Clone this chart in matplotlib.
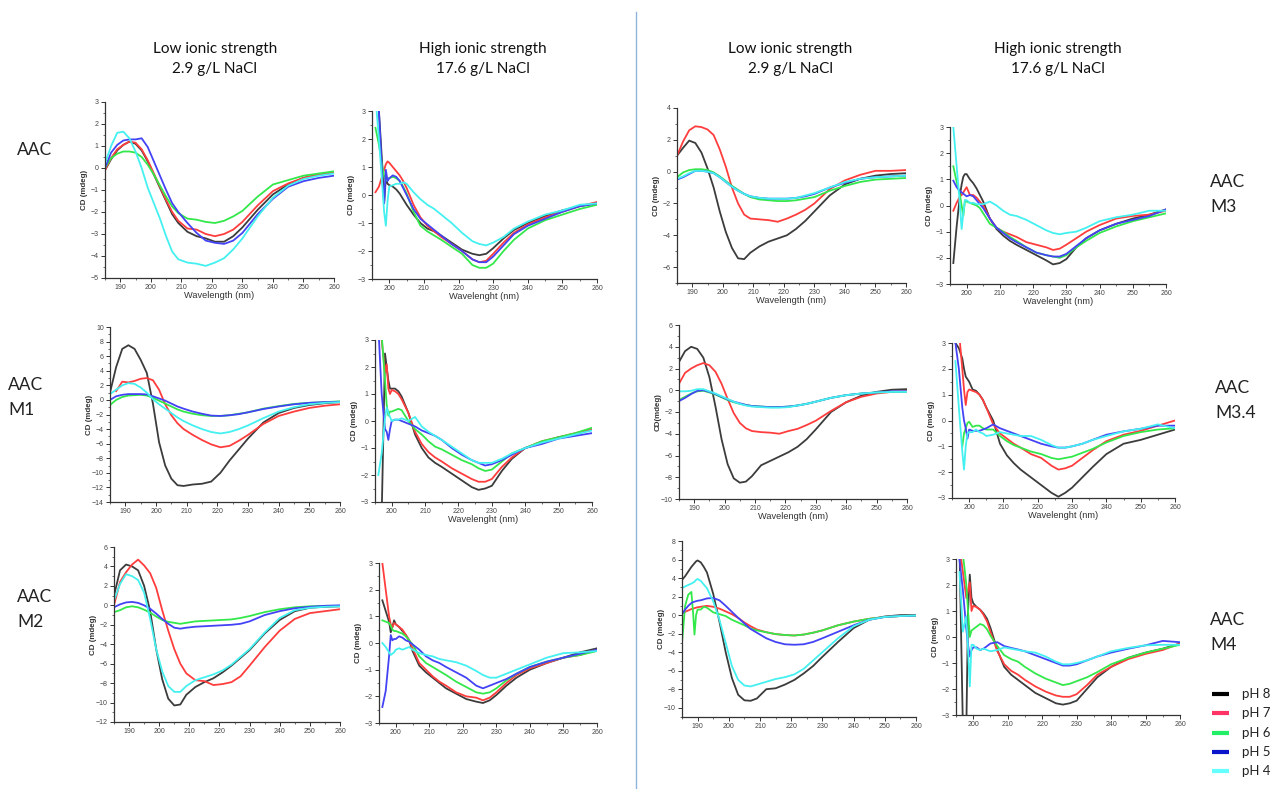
import matplotlib
matplotlib.use('Agg')
import matplotlib.pyplot as plt
from matplotlib.lines import Line2D
from matplotlib.ticker import MultipleLocator
import numpy as np

nan = np.nan

# ---------------- data ----------------
PH_LABELS = ["pH 8", "pH 7", "pH 6", "pH 5", "pH 4"]

X_LOW = [185, 187, 189, 191, 193, 195, 197, 199, 201, 203, 205, 207, 209, 212, 215,
         218, 221, 224, 227, 230, 235, 240, 245, 250, 255, 260]
X_HIGH = [196, 197, 198, 198.5, 199, 199.5, 200, 201, 202, 203, 204, 205, 207, 209, 211,
          213, 215, 218, 221, 224, 226, 228, 230, 233, 236, 240, 245, 250, 255, 260]
X_M4_LOW = [185, 186, 187, 188, 188.5, 189, 189.5, 190, 191, 192, 193, 195, 197, 199, 201,
            203, 205, 207, 209, 212, 215, 218, 221, 224, 227, 230, 235, 240, 245, 250, 255, 260]

# series order: pH 8, pH 7, pH 6, pH 5, pH 4
AAC_LOW = [
    [-0.1, 0.4, 0.8, 1.05, 1.2, 1.1, 0.8, 0.3, -0.3, -0.9, -1.5, -2.1, -2.5, -2.9, -3.1, -3.2, -3.35, -3.35, -3.1, -2.7, -1.9, -1.2, -0.75, -0.45, -0.3, -0.2],
    [-0.1, 0.45, 0.85, 1.05, 1.2, 1.15, 0.85, 0.35, -0.25, -0.85, -1.45, -2.0, -2.4, -2.75, -2.8, -3.0, -3.1, -3.0, -2.8, -2.45, -1.7, -1.05, -0.7, -0.45, -0.3, -0.2],
    [0.0, 0.45, 0.65, 0.75, 0.75, 0.7, 0.5, 0.15, -0.3, -0.8, -1.3, -1.75, -2.05, -2.3, -2.35, -2.45, -2.5, -2.4, -2.2, -1.95, -1.3, -0.75, -0.55, -0.35, -0.25, -0.15],
    [0.0, 0.7, 1.05, 1.25, 1.3, 1.3, 1.35, 0.95, 0.3, -0.35, -1.0, -1.6, -2.0, -2.5, -2.95, -3.3, -3.4, -3.45, -3.3, -2.95, -2.1, -1.4, -0.85, -0.6, -0.45, -0.35],
    [0.2, 1.0, 1.6, 1.65, 1.35, 0.75, 0.0, -0.9, -1.6, -2.3, -3.1, -3.8, -4.15, -4.3, -4.35, -4.45, -4.3, -4.1, -3.7, -3.2, -2.2, -1.35, -0.8, -0.5, -0.35, -0.25],
]
AAC_HIGH = [
    [3.5, 3.0, 1.0, -0.3, 0.6, 0.4, 0.35, 0.3, 0.2, 0.05, -0.15, -0.35, -0.7, -1.0, -1.2, -1.3, -1.45, -1.7, -1.95, -2.1, -2.15, -2.1, -1.9, -1.55, -1.25, -1.0, -0.75, -0.55, -0.4, -0.3],
    [0.1, 0.3, 0.7, 0.9, 1.1, 1.2, 1.15, 1.0, 0.85, 0.7, 0.5, 0.25, -0.35, -0.8, -1.1, -1.3, -1.5, -1.75, -2.0, -2.3, -2.4, -2.35, -2.1, -1.7, -1.35, -1.05, -0.8, -0.6, -0.4, -0.25],
    [2.4, 1.8, 1.0, 0.7, 0.5, 0.6, 0.6, 0.65, 0.6, 0.5, 0.3, 0.05, -0.6, -1.1, -1.3, -1.45, -1.6, -1.85, -2.1, -2.5, -2.6, -2.6, -2.45, -2.0, -1.6, -1.2, -0.9, -0.7, -0.5, -0.35],
    [3.5, 3.0, 0.5, -0.3, 0.9, 0.5, 0.6, 0.7, 0.65, 0.5, 0.25, 0.0, -0.5, -0.85, -1.05, -1.25, -1.45, -1.75, -2.0, -2.3, -2.4, -2.4, -2.2, -1.8, -1.4, -1.1, -0.85, -0.6, -0.4, -0.3],
    [3.5, 2.0, 0.3, -0.6, -1.1, -0.2, 0.3, 0.35, 0.4, 0.4, 0.45, 0.4, 0.1, -0.15, -0.35, -0.5, -0.7, -1.0, -1.35, -1.65, -1.75, -1.8, -1.7, -1.5, -1.2, -0.95, -0.7, -0.55, -0.35, -0.3],
]
M1_LOW = [
    [1.0, 4.5, 7.0, 7.5, 7.0, 5.5, 3.7, -0.5, -5.8, -9.0, -10.8, -11.7, -11.8, -11.6, -11.5, -11.2, -10.0, -8.3, -6.8, -5.3, -3.1, -1.8, -1.1, -0.7, -0.45, -0.3],
    [nan, 1.2, 2.5, 2.4, 2.6, 2.9, 3.0, 2.7, 1.4, -0.6, -2.1, -3.2, -4.0, -4.8, -5.5, -6.1, -6.5, -6.3, -5.6, -4.8, -3.3, -2.2, -1.6, -1.1, -0.8, -0.6],
    [-0.7, 0.0, 0.4, 0.6, 0.65, 0.7, 0.6, 0.3, -0.1, -0.5, -0.9, -1.3, -1.6, -1.9, -2.1, -2.2, -2.2, -2.1, -1.9, -1.7, -1.2, -0.85, -0.55, -0.4, -0.3, -0.2],
    [0.0, 0.5, 0.7, 0.8, 0.8, 0.8, 0.75, 0.5, 0.2, -0.1, -0.5, -0.9, -1.2, -1.6, -1.9, -2.15, -2.2, -2.1, -1.95, -1.7, -1.25, -0.9, -0.6, -0.4, -0.3, -0.25],
    [0.8, 1.4, 2.0, 2.3, 2.2, 1.7, 1.0, 0.1, -0.6, -1.2, -1.8, -2.4, -2.9, -3.5, -4.0, -4.4, -4.6, -4.4, -4.0, -3.5, -2.5, -1.6, -1.0, -0.6, -0.4, -0.3],
]
M1_HIGH = [
    [-3.5, -3.5, 2.5, 2.0, 1.5, 1.2, 1.2, 1.2, 1.1, 0.9, 0.6, 0.3, -0.5, -1.0, -1.35, -1.55, -1.7, -1.95, -2.2, -2.45, -2.55, -2.5, -2.4, -1.85, -1.4, -1.0, -0.8, -0.6, -0.5, -0.3],
    [3.5, 3.0, 1.8, 2.1, 1.2, 1.0, 1.15, 1.1, 1.0, 0.8, 0.55, 0.3, -0.4, -0.85, -1.15, -1.35, -1.5, -1.75, -1.95, -2.15, -2.25, -2.25, -2.15, -1.7, -1.35, -1.0, -0.75, -0.6, -0.45, -0.3],
    [3.5, 3.2, 1.5, 0.6, 0.2, 0.35, 0.35, 0.4, 0.45, 0.4, 0.2, 0.0, -0.3, -0.5, -0.75, -0.95, -1.05, -1.25, -1.45, -1.6, -1.75, -1.85, -1.8, -1.5, -1.2, -1.0, -0.75, -0.6, -0.45, -0.25],
    [3.5, 1.0, -0.3, -0.4, -0.7, -0.3, 0.0, 0.05, 0.05, 0.0, -0.05, -0.1, -0.2, -0.35, -0.45, -0.55, -0.7, -1.0, -1.25, -1.45, -1.55, -1.65, -1.6, -1.45, -1.25, -1.0, -0.85, -0.65, -0.55, -0.45],
    [-2.0, -1.2, 0.1, 0.5, 0.3, 0.15, 0.0, 0.05, 0.05, 0.1, 0.05, 0.0, 0.15, -0.2, -0.4, -0.55, -0.7, -0.95, -1.2, -1.45, -1.55, -1.55, -1.55, -1.4, -1.2, -1.0, -0.8, -0.65, -0.5, -0.35],
]
M2_LOW = [
    [1.0, 3.6, 4.2, 4.0, 3.6, 2.0, -0.6, -4.5, -7.6, -9.6, -10.3, -10.2, -9.2, -8.4, -7.9, -7.5, -6.9, -6.2, -5.4, -4.6, -2.9, -1.5, -0.6, -0.25, -0.15, -0.1],
    [0.0, 2.4, 3.4, 4.2, 4.7, 4.1, 3.3, 1.8, -0.5, -2.6, -4.5, -6.0, -7.0, -7.7, -7.8, -8.2, -8.1, -7.9, -7.3, -6.2, -4.3, -2.6, -1.4, -0.8, -0.6, -0.4],
    [-0.7, -0.5, -0.2, -0.1, -0.2, -0.45, -0.75, -1.15, -1.5, -1.7, -1.8, -1.9, -1.8, -1.65, -1.6, -1.55, -1.5, -1.45, -1.3, -1.1, -0.7, -0.4, -0.2, -0.1, -0.05, -0.05],
    [-0.2, 0.1, 0.3, 0.35, 0.25, 0.0, -0.35, -0.85, -1.4, -1.9, -2.3, -2.4, -2.3, -2.2, -2.15, -2.1, -2.05, -2.0, -1.9, -1.65, -1.0, -0.6, -0.3, -0.15, -0.05, 0.0],
    [0.5, 2.2, 3.2, 3.0, 2.6, 1.3, -1.4, -4.5, -6.8, -8.3, -8.9, -8.9, -8.3, -7.7, -7.4, -7.1, -6.7, -6.1, -5.3, -4.5, -2.8, -1.3, -0.5, -0.25, -0.15, -0.1],
]
M2_HIGH = [
    [1.6, 1.2, 0.8, 0.4, 0.6, 0.85, 0.7, 0.6, 0.45, 0.3, 0.1, -0.3, -0.85, -1.1, -1.3, -1.5, -1.7, -1.9, -2.1, -2.2, -2.25, -2.15, -1.95, -1.6, -1.3, -1.0, -0.75, -0.55, -0.35, -0.2],
    [3.0, 2.0, 1.0, 0.7, 0.6, 0.75, 0.7, 0.6, 0.5, 0.3, 0.1, -0.2, -0.75, -1.0, -1.25, -1.45, -1.6, -1.85, -2.0, -2.05, -2.15, -2.05, -1.85, -1.5, -1.2, -0.95, -0.75, -0.55, -0.45, -0.25],
    [0.85, 0.8, 0.75, 0.65, 0.5, 0.45, 0.45, 0.4, 0.35, 0.25, 0.1, -0.05, -0.5, -0.75, -0.9, -1.05, -1.2, -1.45, -1.65, -1.85, -1.9, -1.85, -1.7, -1.4, -1.15, -0.9, -0.7, -0.55, -0.45, -0.3],
    [-2.4, -1.8, -0.5, 0.3, 0.1, 0.15, 0.15, 0.25, 0.2, 0.1, 0.05, -0.05, -0.25, -0.5, -0.65, -0.75, -0.9, -1.1, -1.3, -1.6, -1.7, -1.6, -1.5, -1.35, -1.15, -0.9, -0.7, -0.55, -0.4, -0.25],
    [0.0, -0.15, -0.35, -0.45, -0.4, -0.35, -0.25, -0.2, -0.25, -0.2, -0.15, -0.25, -0.38, -0.45, -0.5, -0.6, -0.65, -0.72, -0.85, -1.05, -1.2, -1.3, -1.3, -1.15, -1.0, -0.8, -0.55, -0.38, -0.35, -0.3],
]
M3_LOW = [
    [1.0, 1.5, 1.95, 1.8, 1.2, 0.2, -1.0, -2.5, -3.8, -4.8, -5.45, -5.5, -5.1, -4.7, -4.4, -4.2, -4.0, -3.6, -3.1, -2.5, -1.5, -0.8, -0.45, -0.25, -0.15, -0.1],
    [1.0, 1.9, 2.6, 2.85, 2.8, 2.65, 2.3, 1.4, 0.3, -1.0, -2.0, -2.7, -2.95, -3.0, -3.05, -3.15, -2.95, -2.7, -2.4, -2.0, -1.1, -0.55, -0.2, 0.05, 0.05, 0.1],
    [-0.35, -0.05, 0.1, 0.15, 0.15, 0.1, -0.05, -0.3, -0.6, -0.9, -1.15, -1.4, -1.6, -1.75, -1.8, -1.85, -1.85, -1.8, -1.7, -1.6, -1.2, -0.9, -0.65, -0.5, -0.45, -0.4],
    [-0.5, -0.35, -0.15, 0.05, 0.05, 0.0, -0.1, -0.35, -0.65, -0.95, -1.2, -1.4, -1.55, -1.65, -1.7, -1.7, -1.7, -1.65, -1.55, -1.4, -1.0, -0.7, -0.45, -0.35, -0.3, -0.25],
    [-0.45, -0.3, -0.1, 0.05, 0.05, 0.0, -0.1, -0.35, -0.65, -0.95, -1.2, -1.4, -1.55, -1.65, -1.7, -1.7, -1.7, -1.65, -1.5, -1.35, -1.0, -0.65, -0.45, -0.35, -0.3, -0.25],
]
M3_HIGH = [
    [-2.2, -0.8, 0.4, 0.8, 1.1, 1.2, 1.2, 1.0, 0.85, 0.65, 0.4, 0.15, -0.5, -0.9, -1.15, -1.35, -1.5, -1.7, -1.9, -2.1, -2.25, -2.2, -2.05, -1.6, -1.25, -0.95, -0.7, -0.5, -0.35, -0.15],
    [-0.2, 0.1, 0.35, 0.4, 0.5, 0.6, 0.7, 0.4, 0.4, 0.3, 0.15, 0.0, -0.5, -0.85, -1.0, -1.1, -1.2, -1.4, -1.5, -1.6, -1.7, -1.65, -1.5, -1.25, -1.0, -0.75, -0.5, -0.4, -0.35, -0.2],
    [1.5, 0.9, 0.4, 0.0, -0.4, 0.2, 0.15, 0.1, 0.05, 0.0, -0.1, -0.3, -0.7, -0.85, -1.0, -1.2, -1.35, -1.6, -1.8, -1.9, -1.95, -2.0, -1.9, -1.6, -1.35, -1.05, -0.8, -0.6, -0.45, -0.3],
    [0.95, 0.7, 0.55, 0.5, 0.45, 0.4, 0.35, 0.4, 0.35, 0.2, 0.05, -0.1, -0.5, -0.85, -1.05, -1.25, -1.4, -1.6, -1.8, -1.9, -1.95, -1.95, -1.85, -1.55, -1.25, -0.95, -0.7, -0.55, -0.4, -0.15],
    [3.0, 1.5, 0.0, -0.9, -0.3, 0.2, 0.2, 0.1, 0.1, 0.05, 0.05, 0.05, 0.15, 0.0, -0.2, -0.35, -0.4, -0.55, -0.75, -0.95, -1.05, -1.1, -1.05, -1.0, -0.85, -0.6, -0.45, -0.35, -0.2, -0.2],
]
M34_LOW = [
    [2.6, 3.6, 4.0, 3.8, 3.0, 1.2, -1.5, -4.5, -6.8, -8.1, -8.5, -8.4, -7.9, -6.9, -6.5, -6.1, -5.7, -5.2, -4.5, -3.6, -2.0, -1.1, -0.5, -0.15, 0.05, 0.1],
    [0.6, 1.6, 2.0, 2.3, 2.5, 2.3, 1.7, 0.6, -0.8, -2.1, -3.0, -3.5, -3.75, -3.85, -3.9, -4.0, -3.75, -3.55, -3.2, -2.8, -1.9, -1.1, -0.6, -0.3, -0.15, -0.1],
    [-0.9, -0.6, -0.3, -0.1, -0.05, -0.2, -0.4, -0.65, -0.9, -1.1, -1.25, -1.35, -1.45, -1.5, -1.55, -1.55, -1.5, -1.4, -1.25, -1.05, -0.7, -0.45, -0.3, -0.2, -0.15, -0.15],
    [-1.0, -0.7, -0.35, -0.05, 0.0, -0.15, -0.35, -0.6, -0.85, -1.05, -1.2, -1.35, -1.45, -1.5, -1.55, -1.55, -1.5, -1.4, -1.25, -1.05, -0.7, -0.45, -0.3, -0.2, -0.1, -0.1],
    [-0.1, -0.1, -0.05, 0.1, 0.1, -0.1, -0.3, -0.55, -0.8, -1.05, -1.25, -1.4, -1.5, -1.55, -1.6, -1.6, -1.55, -1.4, -1.25, -1.05, -0.7, -0.45, -0.3, -0.2, -0.15, -0.15],
]
M34_HIGH = [
    [3.0, 2.8, 2.4, 2.0, 1.7, 1.6, 1.5, 1.2, 1.15, 1.0, 0.8, 0.5, 0.0, -0.9, -1.35, -1.65, -1.9, -2.2, -2.5, -2.8, -2.95, -2.8, -2.6, -2.2, -1.8, -1.3, -0.9, -0.75, -0.55, -0.35],
    [nan, 3.5, 2.0, 1.2, 0.6, 1.1, 1.2, 1.15, 1.1, 1.0, 0.8, 0.5, -0.15, -0.5, -0.7, -0.9, -1.05, -1.3, -1.45, -1.75, -1.9, -1.85, -1.75, -1.45, -1.15, -0.8, -0.55, -0.4, -0.2, 0.0],
    [nan, nan, -1.0, -0.5, -0.3, -0.1, -0.05, -0.25, -0.2, -0.2, -0.3, -0.35, -0.35, -0.6, -0.8, -0.95, -1.05, -1.2, -1.3, -1.45, -1.5, -1.45, -1.4, -1.25, -1.1, -0.85, -0.6, -0.45, -0.35, -0.3],
    [3.0, 2.0, 0.5, 0.0, -0.3, -0.7, -0.35, -0.4, -0.4, -0.4, -0.35, -0.3, -0.15, -0.3, -0.4, -0.5, -0.6, -0.75, -0.9, -1.0, -1.05, -1.05, -1.0, -0.9, -0.75, -0.55, -0.42, -0.32, -0.2, -0.2],
    [2.3, 0.5, -1.2, -1.9, -1.0, -0.5, -0.45, -0.45, -0.35, -0.45, -0.5, -0.6, -0.55, -0.45, -0.5, -0.55, -0.6, -0.6, -0.75, -0.95, -1.05, -1.05, -1.0, -0.9, -0.75, -0.6, -0.42, -0.32, -0.15, -0.3],
]
M4_LOW = [
    [3.8, 4.2, 4.7, 5.2, 5.4, 5.6, 5.8, 5.9, 5.7, 5.2, 4.6, 2.3, -0.7, -4.0, -6.8, -8.6, -9.2, -9.25, -9.0, -8.0, -7.9, -7.5, -7.0, -6.3, -5.5, -4.5, -2.9, -1.4, -0.5, -0.15, 0.0, 0.0],
    [0.2, 0.35, 0.5, 0.65, 0.7, 0.75, 0.8, 0.85, 0.9, 0.95, 1.0, 0.9, 0.7, 0.4, 0.1, -0.3, -0.8, -1.2, -1.55, -1.85, -2.05, -2.15, -2.2, -2.1, -1.9, -1.65, -1.1, -0.7, -0.4, -0.2, -0.1, -0.05],
    [-3.0, 1.0, 2.2, 2.5, 0.5, -2.1, 0.0, 0.6, 0.6, 0.9, 0.8, 0.3, 0.1, -0.1, -0.5, -0.8, -1.1, -1.45, -1.65, -1.85, -2.05, -2.15, -2.2, -2.1, -1.9, -1.65, -1.1, -0.7, -0.4, -0.2, -0.1, -0.05],
    [0.1, 0.6, 1.0, 1.3, 1.4, 1.45, 1.5, 1.55, 1.6, 1.7, 1.8, 1.85, 1.6, 1.0, 0.35, -0.3, -0.9, -1.5, -1.9, -2.5, -2.9, -3.15, -3.2, -3.15, -2.9, -2.5, -1.8, -1.1, -0.5, -0.2, -0.1, -0.05],
    [2.9, 3.1, 3.25, 3.4, 3.5, 3.6, 3.8, 3.9, 3.7, 3.3, 2.9, 1.5, -0.5, -3.0, -5.5, -7.0, -7.6, -7.7, -7.5, -7.2, -6.9, -6.7, -6.4, -5.8, -4.9, -4.0, -2.5, -1.2, -0.5, -0.2, -0.1, -0.05],
]
M4_HIGH = [
    [3.5, -3.5, -3.5, 1.0, 2.4, 1.5, 1.3, 1.15, 1.05, 0.9, 0.7, 0.35, -0.5, -1.15, -1.45, -1.65, -1.85, -2.15, -2.35, -2.55, -2.6, -2.55, -2.45, -2.0, -1.55, -1.15, -0.8, -0.6, -0.45, -0.25],
    [3.5, 2.5, 1.5, 1.8, 2.1, 1.0, 1.2, 1.15, 1.05, 0.85, 0.6, 0.2, -0.55, -1.05, -1.3, -1.45, -1.65, -1.9, -2.1, -2.25, -2.3, -2.3, -2.2, -1.85, -1.45, -1.15, -0.85, -0.65, -0.5, -0.25],
    [nan, 3.2, 2.0, 1.0, 0.0, 0.25, 0.3, 0.4, 0.5, 0.45, 0.3, 0.05, -0.35, -0.7, -0.85, -0.95, -1.15, -1.4, -1.6, -1.75, -1.85, -1.8, -1.7, -1.55, -1.35, -1.05, -0.8, -0.6, -0.45, -0.3],
    [3.0, 1.8, 0.3, -0.3, -0.75, -0.5, -0.4, -0.4, -0.5, -0.45, -0.35, -0.25, -0.2, -0.35, -0.42, -0.48, -0.55, -0.7, -0.85, -1.0, -1.1, -1.1, -1.05, -0.9, -0.75, -0.6, -0.45, -0.32, -0.15, -0.2],
    [2.5, 0.2, 0.8, -0.5, -1.9, -0.3, -0.3, -0.45, -0.5, -0.45, -0.5, -0.55, -0.5, -0.4, -0.45, -0.5, -0.55, -0.6, -0.75, -0.95, -1.05, -1.05, -1.0, -0.9, -0.75, -0.55, -0.42, -0.32, -0.3, -0.3],
]

COL_HEADERS = [("Low ionic strength", "2.9 g/L NaCl"), ("High ionic strength", "17.6 g/L NaCl"),
               ("Low ionic strength", "2.9 g/L NaCl"), ("High ionic strength", "17.6 g/L NaCl")]

# ---------------- figure ----------------
W, H = 1272, 789
fig = plt.figure(figsize=(W / 100, H / 100), dpi=100)
fig.patch.set_facecolor('white')

CURVE_COLORS = ['#3c3c3c', '#ff3d3d', '#33e84a', '#4343f5', '#44f0f0']
LEG_COLORS = ['#000000', '#ff3366', '#22ee66', '#0a14c8', '#66ffff']
TICK_FONT = 'Liberation Sans'
HEAD_FONT = 'Lato'


def px(x, y):
    return x / W, 1 - y / H


def add_panel(series, xs, box, ylim, ystep, xlim, xlabel, ylabel='CD (mdeg)'):
    L, T, R, B = box
    ax = fig.add_axes([L / W, 1 - B / H, (R - L) / W, (B - T) / H])
    for ys, c in zip(series, CURVE_COLORS):
        ax.plot(xs, ys, color=c, lw=1.3, solid_joinstyle='round')
    ax.set_xlim(*xlim)
    ax.set_ylim(*ylim)
    ax.xaxis.set_major_locator(MultipleLocator(10))
    ax.xaxis.set_minor_locator(MultipleLocator(5))
    ax.yaxis.set_major_locator(MultipleLocator(ystep))
    ax.yaxis.set_minor_locator(MultipleLocator(ystep / 2))
    for s in ('top', 'right'):
        ax.spines[s].set_visible(False)
    for s in ('left', 'bottom'):
        ax.spines[s].set_color('#333333')
        ax.spines[s].set_linewidth(0.9)
    ax.tick_params(which='major', direction='out', length=3, width=0.7, colors='#333333',
                   labelsize=5, pad=1.5)
    ax.tick_params(which='minor', direction='out', length=1.6, width=0.5, colors='#333333')
    for lab in ax.get_xticklabels() + ax.get_yticklabels():
        lab.set_fontfamily(TICK_FONT)
        lab.set_color('#444444')
    ax.set_ylabel(ylabel, fontsize=5.7, fontweight='bold', family=TICK_FONT, color='#333333')
    ax.yaxis.set_label_coords(-17 / (R - L), 0.5)
    if xlabel:
        ax.set_xlabel(xlabel, fontsize=6.7, family=TICK_FONT, color='#333333')
        ax.xaxis.set_label_coords(0.5, -13 / (B - T))
    ax.patch.set_alpha(0)
    return ax


LX = (185, 260)
HX = (195, 260)
add_panel(AAC_LOW, X_LOW, (105, 102, 334, 278), (-5, 3), 1, LX, 'Wavelength (nm)')
add_panel(AAC_HIGH, X_HIGH, (372, 111, 597, 279), (-3, 3), 1, HX, 'Wavelenght (nm)')
add_panel(M3_LOW, X_LOW, (677, 108, 906, 283), (-7, 4), 2, LX, 'Wavelength (nm)')
add_panel(M3_HIGH, X_HIGH, (950, 127, 1166, 284), (-3, 3), 1, HX, 'Wavelenght (nm)')
add_panel(M1_LOW, X_LOW, (110, 327, 340, 502), (-14, 10), 2, LX, None)
add_panel(M1_HIGH, X_HIGH, (375, 340, 592, 502), (-3, 3), 1, HX, 'Wavelenght (nm)')
add_panel(M34_LOW, X_LOW, (679, 325, 907, 499), (-10, 6), 2, LX, 'Wavelength (nm)', 'CD(mdeg)')
add_panel(M34_HIGH, X_HIGH, (952, 343, 1175, 498), (-3, 3), 1, HX, 'Wavelenght (nm)')
add_panel(M2_LOW, X_LOW, (114, 547, 340, 722), (-12, 6), 2, LX, None)
add_panel(M2_HIGH, X_HIGH, (379, 563, 597, 723), (-3, 3), 1, HX, None)
add_panel(M4_LOW, X_M4_LOW, (682, 541, 916, 717), (-11, 8), 2, LX, None)
add_panel(M4_HIGH, X_HIGH, (956, 559, 1180, 715), (-3, 3), 1, HX, None)

# column headers
for (l1, l2), cx in zip(COL_HEADERS, [215, 483, 790, 1058]):
    fig.text(*px(cx, 49), l1, ha='center', va='center', fontsize=11, family=HEAD_FONT, color='#111111')
    fig.text(*px(cx, 69), l2, ha='center', va='center', fontsize=11, family=HEAD_FONT, color='#111111')

# row labels
ROW_LABELS = [(17, [150], ["AAC"]), (8, [385, 410], ["AAC", "M1"]), (17, [597, 622], ["AAC", "M2"]),
              (1210, [182, 207], ["AAC", "M3"]), (1215, [388, 413], ["AAC", "M3.4"]),
              (1210, [620, 645], ["AAC", "M4"])]
for x0, ys, labs in ROW_LABELS:
    for yy, t in zip(ys, labs):
        fig.text(*px(x0, yy), t, ha='left', va='center', fontsize=12.5, family=HEAD_FONT, color='#222222')

# divider
fig.add_artist(Line2D([636 / W, 636 / W], [1 - 12 / H, 0], transform=fig.transFigure,
                      color='#8fb4dc', lw=1.0))

# legend
for i, (lab, c) in enumerate(zip(PH_LABELS, LEG_COLORS)):
    yy = 694 + i * 19.3
    x1, y1 = px(1212, yy)
    x2, _ = px(1229, yy)
    fig.add_artist(Line2D([x1, x2], [y1, y1], transform=fig.transFigure, color=c, lw=3.0,
                          solid_capstyle='butt'))
    fig.text(*px(1242, yy), lab, ha='left', va='center', fontsize=9.5, family=HEAD_FONT, color='#222222')

fig.savefig('out.png', dpi=100, facecolor='white')
